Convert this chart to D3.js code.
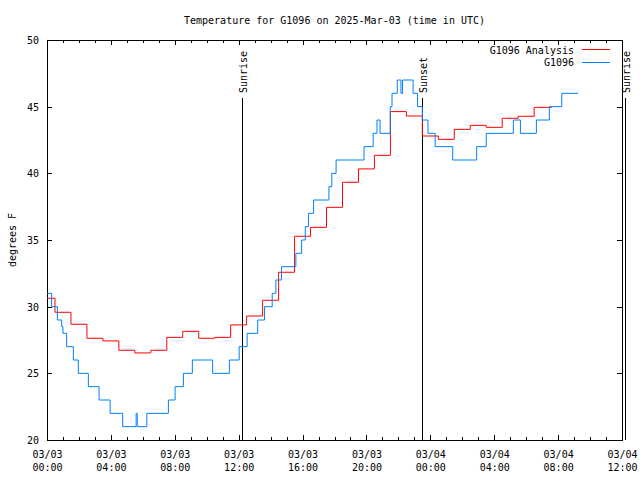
<!DOCTYPE html>
<html><head><meta charset="utf-8">
<script src="https://cdn.jsdelivr.net/npm/d3@7"></script>
<style>
body{margin:0;background:#fff}
text{font-family:"DejaVu Sans Mono","Liberation Mono",monospace;font-size:10px;fill:#000}
</style>
</head><body>
<svg id="c" width="640" height="480"></svg>
<script>
const title = "Temperature for G1096 on 2025-Mar-03 (time in UTC)";
const yLabel = "degrees F";
const seriesNames = ["G1096 Analysis", "G1096"];

// Analysis (hourly)
const analysisHours = [0,1,2,3,4,5,6,7,8,9,10,11,12,13,14,15,16,17,18,19,20,21,22,23,24,25,26,27,28,29,30,31,31.6];
const analysisTemps = [30.63,29.58,28.68,27.63,27.43,26.73,26.53,26.73,27.7,28.15,27.63,27.7,28.63,29.3,30.48,32.58,35.28,35.95,37.45,39.33,40.33,41.35,44.63,44.3,42.8,42.55,43.3,43.6,43.45,44.13,44.28,44.95,44.95];

// Observations (step start hour, value)
const obsHours = [0,0.29,0.65,0.92,1.0,1.23,1.65,1.96,2.59,3.26,3.95,4.74,5.58,5.65,6.25,7.6,8.02,8.54,9.1,10.37,11.42,12.03,12.53,13.19,13.62,14.1,14.33,14.68,15.58,15.94,16.17,16.37,16.69,17.65,17.83,18.1,19.85,20.42,20.66,20.85,21.49,21.6,21.93,22.16,22.26,22.92,23.2,23.5,23.85,24.3,25.4,26.9,27.5,29.2,29.64,30.64,31.45,32.23,33.25];
const obsTemps = [31,30,29,28.5,28,27,26,25,24,23,22,21,22,21,22,23,24,25,26,25,26,27,28,29,30,31,32,33,34,35,36,37,38,39,40,41,42,43,44,43,45,46,47,46,47,46,45,44,43,42,41,42,43,44,43,44,45,46,46];

const yTicks = [20,25,30,35,40,45,50];
const xTickHours = [0,4,8,12,16,20,24,28,32,36];
const xTickDates = ["03/03","03/03","03/03","03/03","03/03","03/03","03/04","03/04","03/04","03/04"];
const xTickTimes = ["00:00","04:00","08:00","12:00","16:00","20:00","00:00","04:00","08:00","12:00"];
const xMinorHours = d3.range(0, 37).filter(h => h % 4 !== 0);
const sunLabels = ["Sunrise","Sunset","Sunrise"];
const sunHours = [12.24, 23.51, 36.23];

const L = 47, R = 622, T = 40, B = 440;
const svg = d3.select("#c");
const x = d3.scaleLinear().domain([0,36]).range([L,R]);
const y = d3.scaleLinear().domain([20,50]).range([B,T]);

// title
svg.append("text").attr("x",(L+R)/2).attr("y",20).attr("text-anchor","middle")
  .attr("dominant-baseline","central").text(title);
// y label
svg.append("text").attr("transform",`translate(12,${(T+B)/2}) rotate(-90)`)
  .attr("text-anchor","middle").attr("dominant-baseline","central").text(yLabel);

function clean(g){ g.select(".domain").remove(); g.selectAll(".tick line").attr("stroke","#000").attr("shape-rendering","crispEdges"); }

// bottom major
const gb = svg.append("g").attr("transform",`translate(0,${B})`)
  .call(d3.axisBottom(x).tickValues(xTickHours).tickSizeInner(-5).tickSizeOuter(0).tickPadding(0));
clean(gb);
gb.selectAll(".tick text").each(function(d,i){
  const t = d3.select(this).text(null).attr("y",0).attr("dy",null)
    .attr("font-size",null).attr("font-family",null);
  t.append("tspan").attr("x",0).attr("y",14).attr("dominant-baseline","central").text(xTickDates[i]);
  t.append("tspan").attr("x",0).attr("y",27).attr("dominant-baseline","central").text(xTickTimes[i]);
});
// bottom minor
clean(svg.append("g").attr("transform",`translate(0,${B})`)
  .call(d3.axisBottom(x).tickValues(xMinorHours).tickSizeInner(-3).tickSizeOuter(0).tickFormat("")));
// top major/minor
clean(svg.append("g").attr("transform",`translate(0,${T})`)
  .call(d3.axisTop(x).tickValues(xTickHours).tickSizeInner(-5).tickSizeOuter(0).tickFormat("")));
clean(svg.append("g").attr("transform",`translate(0,${T})`)
  .call(d3.axisTop(x).tickValues(xMinorHours).tickSizeInner(-3).tickSizeOuter(0).tickFormat("")));
// left
const gl = svg.append("g").attr("transform",`translate(${L},0)`)
  .call(d3.axisLeft(y).tickValues(yTicks).tickSizeInner(-5).tickSizeOuter(0).tickPadding(8));
clean(gl);
gl.selectAll(".tick text").attr("font-size",null).attr("font-family",null).attr("dy",null)
  .attr("dominant-baseline","central");
// right
clean(svg.append("g").attr("transform",`translate(${R},0)`)
  .call(d3.axisRight(y).tickValues(yTicks).tickSizeInner(-5).tickSizeOuter(0).tickFormat("")));

// frame
svg.append("rect").attr("x",L).attr("y",T).attr("width",R-L).attr("height",B-T)
  .attr("fill","none").attr("stroke","#000").attr("shape-rendering","crispEdges");

// sun lines
sunHours.forEach((h,i)=>{
  const sx = x(h);
  svg.append("line").attr("x1",sx).attr("x2",sx).attr("y1",98).attr("y2",B)
    .attr("stroke","#000").attr("shape-rendering","crispEdges");
  svg.append("text").attr("transform",`translate(${sx+1},93) rotate(-90)`)
    .attr("text-anchor","start").attr("dominant-baseline","central").text(sunLabels[i]);
});

// series
const aData = analysisHours.map((h,i)=>[h,analysisTemps[i]]);
const oData = obsHours.map((h,i)=>[h,obsTemps[i]]);
svg.append("path").datum(aData).attr("fill","none").attr("stroke","#ff0000").attr("stroke-width",1)
  .attr("d", d3.line().x(d=>x(d[0])).y(d=>y(d[1])).curve(d3.curveStep));
svg.append("path").datum(oData).attr("fill","none").attr("stroke","#0080ff").attr("stroke-width",1)
  .attr("d", d3.line().x(d=>x(d[0])).y(d=>y(d[1])).curve(d3.curveStepAfter));

// legend
const legColors = ["#ff0000","#0080ff"];
seriesNames.forEach((n,i)=>{
  const ly = 50 + i*12.5;
  svg.append("text").attr("x",574).attr("y",ly).attr("text-anchor","end")
    .attr("dominant-baseline","central").text(n);
  svg.append("line").attr("x1",582).attr("x2",610).attr("y1",ly-0.5).attr("y2",ly-0.5)
    .attr("stroke",legColors[i]).attr("shape-rendering","crispEdges");
});
</script>
</body></html>
